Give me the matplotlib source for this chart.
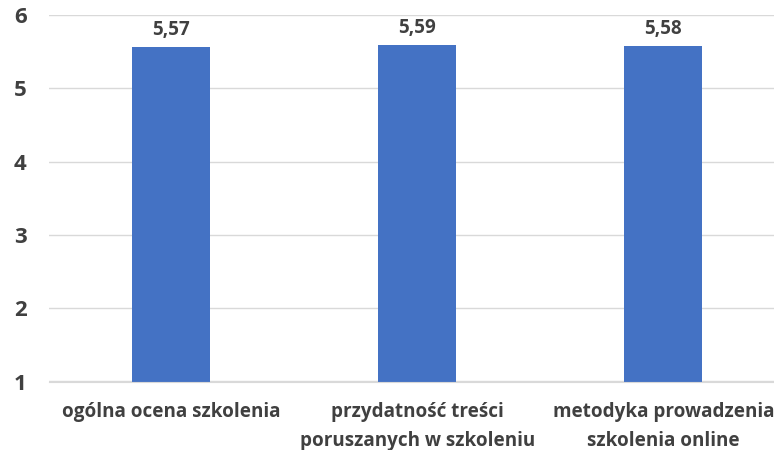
import matplotlib.pyplot as plt

categories = ["ogólna ocena szkolenia",
              "przydatność treści\nporuszanych w szkoleniu",
              "metodyka prowadzenia\nszkolenia online"]
values = [5.57, 5.59, 5.58]
value_labels = ["5,57", "5,59", "5,58"]

plt.rcParams['font.family'] = ['Open Sans', 'DejaVu Sans']
text_color = "#404040"

fig = plt.figure(figsize=(7.74, 4.50), dpi=100)
ax = fig.add_axes([49 / 774, 1 - 381.5 / 450, 1 - 49 / 774, (381.5 - 15) / 450])

x = range(len(categories))
bars = ax.bar(x, values, width=0.317, bottom=0, color="#4472C4", zorder=2)
for b, lab in zip(bars, value_labels):
    ax.text(b.get_x() + b.get_width() / 2, b.get_height() + 0.09, lab,
            ha="center", va="bottom", fontsize=13.5, fontweight="bold", color=text_color)

ax.set_ylim(1, 6)
ax.set_xlim(-0.496, 2.45)
ax.set_yticks([1, 2, 3, 4, 5, 6])
ax.set_xticks(list(x))
ax.set_xticklabels(categories, fontsize=13.6, fontweight="bold", color=text_color, linespacing=1.55)
for t in ax.get_yticklabels():
    t.set_fontsize(16)
    t.set_fontweight("bold")
    t.set_color(text_color)

ax.yaxis.grid(True, color="#D9D9D9", linewidth=1, zorder=0)
ax.tick_params(axis="both", length=0)
ax.tick_params(axis="y", pad=16)
ax.tick_params(axis="x", pad=15)
for s in ["top", "right", "left"]:
    ax.spines[s].set_visible(False)
ax.spines["bottom"].set_color("#D9D9D9")
ax.spines["bottom"].set_zorder(3)

fig.savefig("out.png", dpi=100)
